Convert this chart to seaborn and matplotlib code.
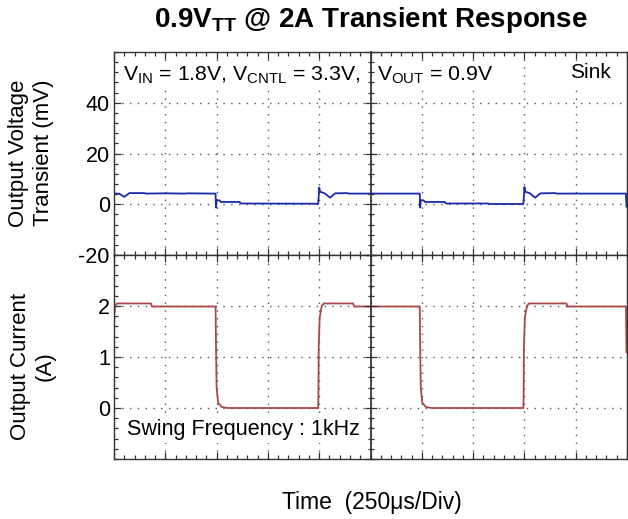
import numpy as np
import pandas as pd
import seaborn as sns
import matplotlib.pyplot as plt
from matplotlib.ticker import MultipleLocator, NullFormatter, FixedLocator

# --------------------------------------------------------------------------- #
# Data (time in divisions, 1 div = 250us)
cur_div = [0.0, 0.02, 0.06, 0.72, 0.74, 1.98, 1.99, 2.0, 2.03, 2.1, 2.22,
           3.98, 3.985, 3.99, 4.01, 4.05, 4.09, 4.66, 4.68, 5.96, 5.97, 5.98,
           6.01, 6.08, 6.19, 7.98, 7.985, 7.99, 8.01, 8.05, 8.09, 8.82, 8.84,
           9.98, 9.99]
cur_amp = [1.78, 2.0, 2.05, 2.05, 1.99, 1.99, 1.09, 0.4, 0.1, 0.02, 0.0,
           0.0, 0.27, 1.19, 1.78, 2.0, 2.05, 2.05, 1.99, 1.99, 1.09, 0.4,
           0.1, 0.02, 0.0, 0.0, 0.27, 1.19, 1.78, 2.0, 2.05, 2.05, 1.99,
           1.99, 1.09]

volt_div = [0.0, 0.1, 0.2, 0.3, 0.6, 0.62, 1.0, 1.4, 1.42, 1.98, 1.985, 1.99,
            2.0, 2.06, 2.08, 2.45, 2.47, 3.98, 3.99, 4.0, 4.02, 4.1, 4.21,
            4.31, 4.55, 4.57, 5.96, 5.965, 5.97, 5.98, 6.04, 6.06, 6.45, 6.47,
            7.3, 7.32, 7.98, 7.99, 8.0, 8.02, 8.1, 8.21, 8.31, 8.6, 8.62,
            9.98, 9.99]
volt_mv = [4.1, 4.2, 2.9, 4.4, 4.4, 4.2, 4.3, 4.2, 4.3, 4.2, 0.0, -1.3,
           1.6, 1.5, 0.9, 0.9, 0.3, 0.2, 3.0, 6.6, 4.9, 4.4, 2.6,
           4.3, 4.4, 4.2, 4.2, 0.0, -1.3, 1.6, 1.5, 0.9, 0.9, 0.3,
           0.3, 0.1, 0.1, 3.0, 6.8, 4.9, 4.4, 2.6, 4.3, 4.4, 4.2,
           4.2, -1.0]

div_us = 250.0
volt = pd.DataFrame({'t': np.array(volt_div) * div_us, 'v': volt_mv})
cur = pd.DataFrame({'t': np.array(cur_div) * div_us, 'i': cur_amp})

# --------------------------------------------------------------------------- #
sns.set_theme(style='white')
plt.rcParams['font.family'] = ['Liberation Sans', 'DejaVu Sans']
plt.rcParams['mathtext.fontset'] = 'custom'
plt.rcParams['mathtext.rm'] = 'Liberation Sans'
plt.rcParams['mathtext.bf'] = 'Liberation Sans:bold'
plt.rcParams['axes.unicode_minus'] = False
for k in ['text.color', 'axes.labelcolor', 'xtick.color', 'ytick.color']:
    plt.rcParams[k] = 'black'

fig = plt.figure(figsize=(6.28, 5.19), dpi=100)
left, right = 114 / 628, 627 / 628
top, mid, bot = 1 - 52 / 519, 1 - 255 / 519, 1 - 459 / 519
ax1 = fig.add_axes([left, mid, right - left, top - mid])
ax2 = fig.add_axes([left, bot, right - left, mid - bot])

sns.lineplot(data=volt, x='t', y='v', ax=ax1, color='#1a2aa8', lw=1.3, sort=False)
sns.lineplot(data=cur, x='t', y='i', ax=ax2, color='#a84848', lw=1.3, sort=False)

grid_kw = dict(color='#555555', lw=1.0, linestyle=(0, (1, 4.6)))
for ax, ylim, ystep, ticks in [(ax1, (-20, 60), 20, [-20, 0, 20, 40]),
                               (ax2, (-1, 3), 1, [0, 1, 2])]:
    ax.set_xlim(0, 10 * div_us)
    ax.set_ylim(*ylim)
    ax.xaxis.set_major_locator(MultipleLocator(div_us))
    ax.xaxis.set_minor_locator(MultipleLocator(div_us / 5))
    ax.yaxis.set_major_locator(FixedLocator(ticks))
    ax.yaxis.set_minor_locator(MultipleLocator(ystep / 5))
    ax.xaxis.set_major_formatter(NullFormatter())
    ax.tick_params(which='both', direction='in', top=True, bottom=True,
                   left=True, right=True, color='#333333', width=0.9)
    ax.tick_params(which='major', length=5, labelsize=15.5, pad=3)
    ax.tick_params(which='minor', length=3)
    for s in ax.spines.values():
        s.set_color('#333333')
        s.set_linewidth(1.0)
    ax.set_xlabel('')
    ax.set_ylabel('')
    # centre graticule line with ticks on both sides
    tw = ax.twinx()
    tw.set_ylim(*ylim)
    tw.yaxis.set_major_locator(MultipleLocator(ystep))
    tw.yaxis.set_minor_locator(MultipleLocator(ystep / 5))
    tw.yaxis.set_major_formatter(NullFormatter())
    for k in ['left', 'top', 'bottom']:
        tw.spines[k].set_visible(False)
    tw.spines['right'].set_position(('data', 5 * div_us))
    tw.spines['right'].set_color('#333333')
    tw.tick_params(which='both', direction='inout', color='#333333', width=0.9)
    tw.tick_params(which='major', length=8)
    tw.tick_params(which='minor', length=5)
    # dotted graticule
    ax.set_axisbelow(True)
    ax.grid(True, which='major', axis='x', **grid_kw)
    ax.yaxis.set_major_locator(MultipleLocator(ystep))
    ax.grid(True, which='major', axis='y', **grid_kw)
    ax.yaxis.set_major_locator(FixedLocator(ticks))

# y labels, placed like the original capture
fig.text(31 / 628, 1 - 153 / 519, 'Output Voltage\nTransient (mV)', fontsize=16,
         rotation=90, ha='center', va='center', multialignment='center',
         linespacing=1.2)
fig.text(33 / 628, 1 - 366 / 519, 'Output Current\n(A)', fontsize=16,
         rotation=90, ha='center', va='center', multialignment='center',
         linespacing=1.2)

# in-plot notes sit on a white patch that masks the graticule, as on the scope
box = dict(facecolor='white', edgecolor='none', pad=1.5)
fig.text(123 / 628, 1 - 75 / 519, r'V$_{\rm IN}$ = 1.8V, V$_{\rm CNTL}$ = 3.3V,',
         fontsize=15.3, va='center', ha='left', bbox=box, zorder=5)
fig.text(377 / 628, 1 - 75 / 519, r'V$_{\rm OUT}$ = 0.9V',
         fontsize=15.3, va='center', ha='left', bbox=box, zorder=5)
fig.text(611 / 628, 1 - 73 / 519, 'Sink', fontsize=15,
         va='center', ha='right', bbox=box, zorder=5)
fig.text(127 / 628, 1 - 430 / 519, 'Swing Frequency : 1kHz',
         fontsize=15.5, va='center', ha='left', bbox=box, zorder=5)

fig.text(371 / 628, 1 - 20 / 519, r'0.9V$_{\mathbf{TT}}$ @ 2A Transient Response',
         fontsize=20, fontweight='bold', ha='center', va='center')
fig.text(372 / 628, 1 - 503 / 519, 'Time  (250\u03bcs/Div)', fontsize=16.5,
         ha='center', va='center')

fig.savefig('out.png', dpi=100)
